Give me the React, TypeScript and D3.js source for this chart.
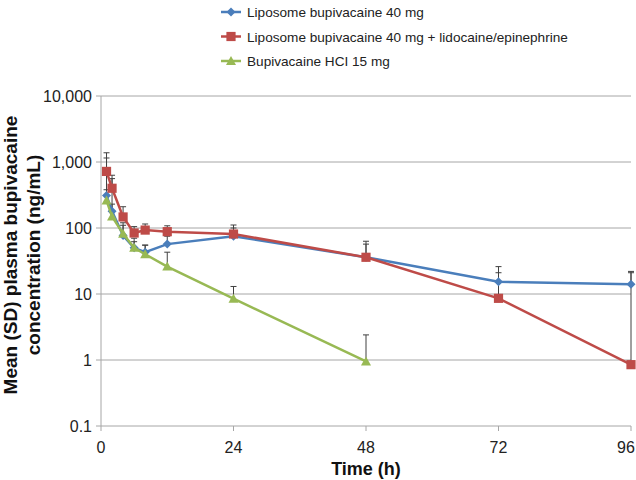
import React from "react";
import * as d3 from "d3";

const times = [1, 2, 4, 6, 8, 12, 24, 48, 72, 96];
const greenTimes = [1, 2, 4, 6, 8, 12, 24, 48];

const liposomeMean = [310, 180, 77, 50, 43, 57, 75, 36, 15.3, 14];
const liposomeUpper = [1150, 560, 120, 70, 55, 75, 100, 57, 26, 22];

const liposomeLidoMean = [720, 400, 147, 84, 93, 88, 81, 36, 8.6, 0.85];
const liposomeLidoUpper = [1380, 630, 210, 105, 115, 108, 111, 63, 21, 21];

const hclMean = [260, 150, 82, 50, 40, 26, 8.5, 0.95];
const hclUpper = [380, 230, 110, 62, 55, 43, 13, 2.4];

const xTicks = [0, 24, 48, 72, 96];
const yTicks = [0.1, 1, 10, 100, 1000, 10000];
const yTickLabels = ["0.1", "1", "10", "100", "1,000", "10,000"];

const legendLabels = [
  "Liposome bupivacaine 40 mg",
  "Liposome bupivacaine 40 mg + lidocaine/epinephrine",
  "Bupivacaine HCI 15 mg",
];

const BLUE = "#4a7ebb";
const RED = "#be4b48";
const GREEN = "#98b954";

type Series = { t: number[]; m: number[]; u: number[]; color: string; shape: string };

const series: Series[] = [
  { t: times, m: liposomeMean, u: liposomeUpper, color: BLUE, shape: "diamond" },
  { t: times, m: liposomeLidoMean, u: liposomeLidoUpper, color: RED, shape: "square" },
  { t: greenTimes, m: hclMean, u: hclUpper, color: GREEN, shape: "triangle" },
];

function Marker({ x, y, shape, color }: { x: number; y: number; shape: string; color: string }) {
  if (shape === "diamond") {
    const s = 4.5;
    return <path d={`M${x},${y - s}L${x + s},${y}L${x},${y + s}L${x - s},${y}Z`} fill={color} />;
  }
  if (shape === "square") {
    const s = 4.6;
    return <rect x={x - s} y={y - s} width={2 * s} height={2 * s} fill={color} />;
  }
  const s = 5;
  return <path d={`M${x},${y - s}L${x + s},${y + s * 0.8}L${x - s},${y + s * 0.8}Z`} fill={color} />;
}

export default function App() {
  const left = 101, right = 631, top = 96, bottom = 426;
  const x = d3.scaleLinear().domain([0, 96]).range([left, right]);
  const y = d3.scaleLog().domain([0.1, 10000]).range([bottom, top]);
  const line = d3
    .line<[number, number]>()
    .x((d) => x(d[0]))
    .y((d) => y(d[1]));
  const font = "'Liberation Sans', Arial, sans-serif";

  return (
    <div style={{ position: "absolute", left: 0, top: 0 }}>
      <svg width={636} height={480} style={{ display: "block", background: "#fff" }} fontFamily={font}>
        {/* gridlines */}
        {yTicks.map((v, i) => (
          <g key={"g" + i}>
            <line x1={left - 5} x2={right} y1={y(v)} y2={y(v)} stroke="#a6a6a6" strokeWidth={1} />
            <text x={left - 9} y={y(v) + 6} fontSize={16} textAnchor="end" fill="#222">
              {yTickLabels[i]}
            </text>
          </g>
        ))}
        {/* y axis */}
        <line x1={left} x2={left} y1={top} y2={bottom} stroke="#a6a6a6" strokeWidth={1} />
        {xTicks.map((v, i) => (
          <g key={"x" + i}>
            <line x1={x(v)} x2={x(v)} y1={bottom} y2={bottom + 5} stroke="#a6a6a6" strokeWidth={1} />
            <text
              x={Math.min(x(v), 626)}
              y={bottom + 27}
              fontSize={16}
              textAnchor="middle"
              fill="#222"
            >
              {v}
            </text>
          </g>
        ))}
        {/* error bars */}
        {series.map((s, si) =>
          s.t.map((t, i) => (
            <g key={`e${si}-${i}`} stroke="#404040" strokeWidth={1}>
              <line x1={x(t)} x2={x(t)} y1={y(s.m[i])} y2={y(s.u[i])} />
              <line x1={x(t) - 3} x2={x(t) + 3} y1={y(s.u[i])} y2={y(s.u[i])} />
            </g>
          ))
        )}
        {/* lines and markers */}
        {series.map((s, si) => (
          <g key={"s" + si}>
            <path
              d={line(s.t.map((t, i) => [t, s.m[i]] as [number, number])) || ""}
              fill="none"
              stroke={s.color}
              strokeWidth={2.5}
            />
            {s.t.map((t, i) => (
              <Marker key={i} x={x(t)} y={y(s.m[i])} shape={s.shape} color={s.color} />
            ))}
          </g>
        ))}
        {/* legend */}
        {series.map((s, si) => {
          const ly = 12 + si * 24.5;
          return (
            <g key={"l" + si}>
              <line x1={221} x2={241} y1={ly} y2={ly} stroke={s.color} strokeWidth={2.5} />
              <Marker x={231} y={ly} shape={s.shape} color={s.color} />
              <text x={247} y={ly + 5} fontSize={13.6} fill="#222">
                {legendLabels[si]}
              </text>
            </g>
          );
        })}
        {/* axis titles */}
        <text x={(left + right) / 2} y={475} fontSize={18} fontWeight="bold" textAnchor="middle" fill="#111">
          Time (h)
        </text>
        <g transform={`translate(17, ${(top + bottom) / 2 - 6}) rotate(-90)`}>
          <text x={0} y={0} fontSize={19} fontWeight="bold" textAnchor="middle" fill="#111">
            Mean (SD) plasma bupivacaine
          </text>
          <text x={0} y={23} fontSize={19} fontWeight="bold" textAnchor="middle" fill="#111">
            concentration (ng/mL)
          </text>
        </g>
      </svg>
    </div>
  );
}
